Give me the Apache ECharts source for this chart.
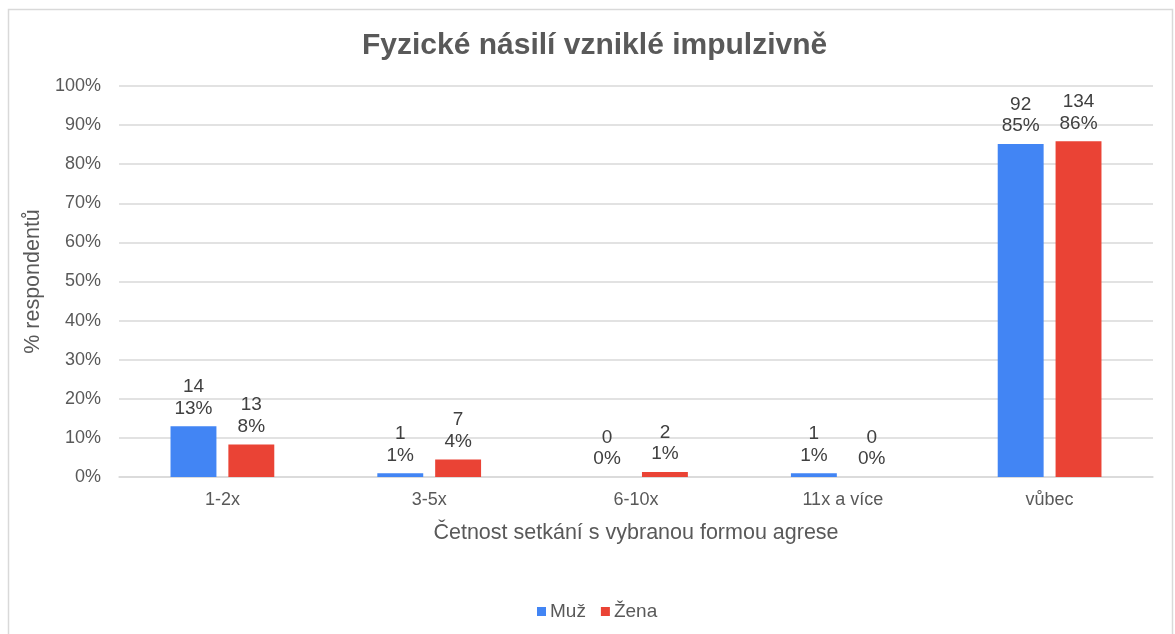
<!DOCTYPE html>
<html><head><meta charset="utf-8">
<script src="https://cdn.jsdelivr.net/npm/echarts@6/dist/echarts.min.js"></script>
<style>html,body{margin:0;padding:0;background:#fff}#c{width:1175px;height:634px}</style>
</head><body><div id="c"></div>
<script>
const categories = ['1-2x', '3-5x', '6-10x', '11x a více', 'vůbec'];
const seriesNames = ['Muž', 'Žena'];
const muzPct = [12.96, 0.93, 0, 0.93, 85.19];
const muzCount = [14, 1, 0, 1, 92];
const zenaPct = [8.33, 4.49, 1.28, 0, 85.90];
const zenaCount = [13, 7, 2, 0, 134];
const yTicks = [0, 10, 20, 30, 40, 50, 60, 70, 80, 90, 100];

const font = 'Liberation Sans, Arial, sans-serif';
const chart = echarts.init(document.getElementById('c'), null, {renderer: 'canvas'});
function mk(name, pct, cnt, color) {
  return {
    name, type: 'bar', data: pct, barWidth: '22.2%', barGap: '26%',
    itemStyle: {color},
    label: {
      show: true, position: 'top', distance: 7, color: '#404040', fontSize: 19, fontFamily: font, lineHeight: 21.5,
      formatter: p => cnt[p.dataIndex] + '\n' + Math.round(pct[p.dataIndex]) + '%'
    }
  };
}
chart.setOption({
  animation: false,
  graphic: [{type: 'rect', shape: {x: 8.5, y: 9.5, width: 1164, height: 640}, style: {fill: 'none', stroke: '#d9d9d9', lineWidth: 1.5}}],
  title: {text: 'Fyzické násilí vzniklé impulzivně', left: 357, top: 26,
    textStyle: {fontFamily: font, fontSize: 30, fontWeight: 'bold', color: '#595959'}},
  legend: {top: 597, left: 532, itemWidth: 9, itemHeight: 9, itemGap: 15, icon: 'rect',
    textStyle: {fontFamily: font, fontSize: 19, color: '#595959', padding: [0, 0, 0, -1]}, data: seriesNames},
  grid: {left: 119, right: 22, top: 86, bottom: 157, containLabel: false},
  xAxis: {
    type: 'category', data: categories,
    name: 'Četnost setkání s vybranou formou agrese', nameLocation: 'middle', nameGap: 45,
    nameTextStyle: {fontFamily: font, fontSize: 21.5, color: '#595959'},
    axisLine: {lineStyle: {color: '#d9d9d9', width: 1.5}}, axisTick: {show: false},
    axisLabel: {fontFamily: font, fontSize: 18, color: '#595959', margin: 14}
  },
  yAxis: {
    type: 'value', min: yTicks[0], max: yTicks[yTicks.length - 1], interval: 10,
    name: '% respondentů', nameLocation: 'middle', nameGap: 69, nameRotate: 90,
    nameTextStyle: {fontFamily: font, fontSize: 21.5, color: '#595959'},
    axisLine: {show: false}, axisTick: {show: false},
    splitLine: {lineStyle: {color: '#d9d9d9', width: 1.5}},
    axisLabel: {fontFamily: font, fontSize: 18, color: '#595959', margin: 18, formatter: v => v + '%'}
  },
  series: [mk(seriesNames[0], muzPct, muzCount, '#4285F4'), mk(seriesNames[1], zenaPct, zenaCount, '#EA4335')]
});
</script></body></html>
